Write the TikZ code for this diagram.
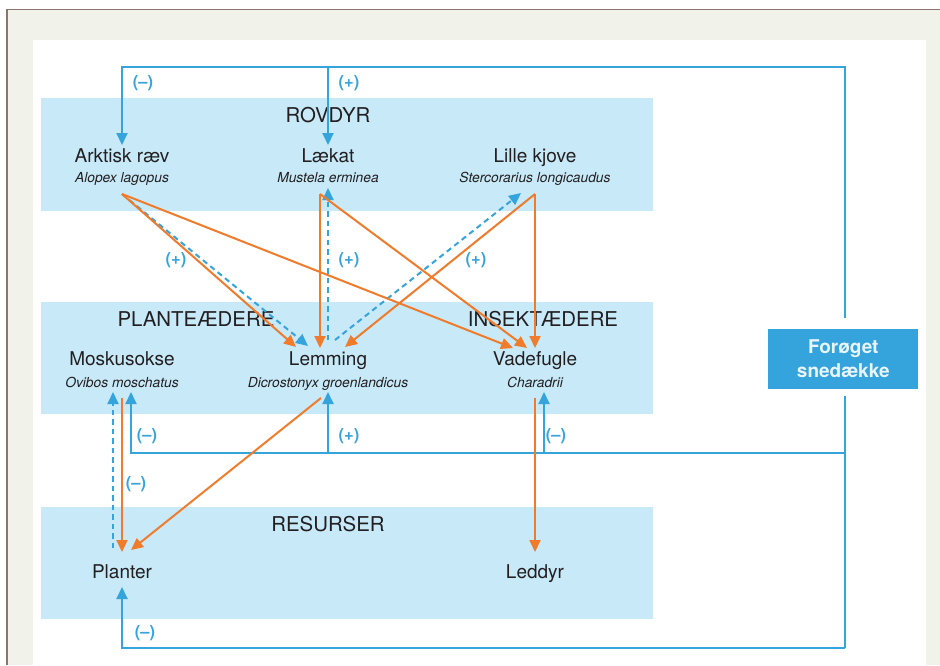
\documentclass[tikz,border=0pt]{standalone}
\usepackage{fontspec}
\setmainfont{TeX Gyre Heros}
\usetikzlibrary{arrows.meta}

\definecolor{pagebg}{HTML}{F1F3EA}
\definecolor{framec}{HTML}{8E7373}
\definecolor{bandblue}{HTML}{C7E9F8}
\definecolor{lineblue}{HTML}{35A4DC}
\definecolor{boxblue}{HTML}{35A3DC}
\definecolor{boxtext}{HTML}{E8F5FC}
\definecolor{orangec}{HTML}{F07B2B}
\definecolor{ink}{HTML}{231F20}

\begin{document}
\begin{tikzpicture}[x=1pt,y=-1pt,
  tip/.style={-{Triangle[length=12pt,width=11pt]}},
  feed/.style={draw=orangec,line width=2pt,tip},
  poslink/.style={draw=lineblue,line width=2pt,tip},
  weaklink/.style={poslink,dash pattern=on 5.5pt off 4pt},
  taxon/.style={anchor=base,text=ink,inner sep=0pt,font=\fontsize{19}{22}\selectfont},
  sciname/.style={anchor=base,text=ink,inner sep=0pt,font=\fontsize{13.8}{16}\selectfont\itshape},
  bandlabel/.style={anchor=base,text=ink,inner sep=0pt,font=\fontsize{20.4}{24}\selectfont},
  signlabel/.style={text=lineblue,inner sep=0pt,font=\fontsize{16.5}{19}\selectfont\bfseries},
  band/.style={fill=bandblue,draw=none}
]
\useasboundingbox (0,0) rectangle (940,665);

% page background, frame and white panel
\fill[white] (0,0) rectangle (940,665);
\fill[pagebg] (7,9.5) rectangle (940,665);
\draw[framec,line width=1.6pt] (7,665) -- (7,9.5) -- (940,9.5);
\fill[white] (33,40) rectangle (926,665);

% trophic bands
\fill[band] (41,98) rectangle (653,211);
\fill[band] (41,302) rectangle (653,414);
\fill[band] (41,507) rectangle (653,619);

% band titles
\node[bandlabel] (predators) at (328,122) {ROVDYR};
\node[bandlabel] (herbivores) at (196,326) {PLANTEÆDERE};
\node[bandlabel] (insectivores) at (543,326) {INSEKTÆDERE};
\node[bandlabel] (resources) at (328,531.5) {RESURSER};

% species
\node[taxon] (fox) at (122,162) {Arktisk ræv};
\node[sciname] (foxsp) at (122,182) {Alopex lagopus};
\node[taxon] (weasel) at (328,162) {Lækat};
\node[sciname] (weaselsp) at (328,182) {Mustela erminea};
\node[taxon] (skua) at (535,162) {Lille kjove};
\node[sciname] (skuasp) at (535,182) {Stercorarius longicaudus};
\node[taxon] (musk) at (122,365) {Moskusokse};
\node[sciname] (musksp) at (122,387) {Ovibos moschatus};
\node[taxon] (lemming) at (328,365) {Lemming};
\node[sciname] (lemmingsp) at (328,387) {Dicrostonyx groenlandicus};
\node[taxon] (wader) at (535,365) {Vadefugle};
\node[sciname] (wadersp) at (535,387) {Charadrii};
\node[taxon] (plants) at (122,578) {Planter};
\node[taxon] (arthropods) at (535,578) {Leddyr};

% snow cover driver
\node[fill=boxblue,text=boxtext,minimum width=150pt,minimum height=60pt,inner sep=0pt,
      align=center,font=\fontsize{19}{24}\selectfont\bfseries] (snow) at (843.3,359) {Forøget\\snedække};

% connector end points
\coordinate (snowtop) at (845,318);
\coordinate (snowbot) at (845,396);
\coordinate (topcorner) at (845,67);
\coordinate (topjoin) at (328,67);
\coordinate (midjoin) at (845,453);
\coordinate (midlem) at (328,453);
\coordinate (midwad) at (544,453);
\coordinate (lowcorner) at (845,648);

\coordinate (foxin) at (122,145);
\coordinate (weaselin) at (328,145);
\coordinate (foxout) at (122,194);
\coordinate (weaselout) at (320,194);
\coordinate (skuaout) at (535,194);
\coordinate (weaselup) at (328,188);
\coordinate (skuaup) at (521,193);

\coordinate (lemA) at (296,347);
\coordinate (lemB) at (320,348);
\coordinate (lemC) at (345,347);
\coordinate (lemD) at (308,346);
\coordinate (lemtopL) at (328,340);
\coordinate (lemtopR) at (335,340);
\coordinate (wadA) at (513,348);
\coordinate (wadB) at (527,348);
\coordinate (wadC) at (535,348);

\coordinate (muskout) at (122,398);
\coordinate (muskdash) at (113,392);
\coordinate (muskin) at (131,392);
\coordinate (lemout) at (321,398);
\coordinate (lemin) at (328,392);
\coordinate (wadout) at (535,398);
\coordinate (wadin) at (544,392);

\coordinate (plantA) at (122,552);
\coordinate (plantB) at (131,550);
\coordinate (plantdash) at (113,548);
\coordinate (plantin) at (122,587);
\coordinate (arthin) at (535,552);

% snow cover effects (blue)
\draw[poslink] (snowtop) -- (topcorner) -| (foxin);
\draw[poslink] (topjoin) -- (weaselin);
\draw[draw=lineblue,line width=2pt] (snowbot) -- (lowcorner);
\draw[poslink] (lowcorner) -| (plantin);
\draw[poslink] (midjoin) -| (muskin);
\draw[poslink] (midlem) -- (lemin);
\draw[poslink] (midwad) -- (wadin);

% indirect effects (dashed blue)
\draw[weaklink] (foxout) -- (lemD);
\draw[weaklink] (lemtopL) -- (weaselup);
\draw[weaklink] (lemtopR) -- (skuaup);
\draw[weaklink] (plantdash) -- (muskdash);

% feeding links (orange)
\draw[feed] (foxout) -- (lemA);
\draw[feed] (foxout) -- (wadA);
\draw[feed] (weaselout) -- (lemB);
\draw[feed] (weaselout) -- (wadB);
\draw[feed] (skuaout) -- (lemC);
\draw[feed] (skuaout) -- (wadC);
\draw[feed] (muskout) -- (plantA);
\draw[feed] (lemout) -- (plantB);
\draw[feed] (wadout) -- (arthin);

% effect signs
\node[signlabel] (s1) at (143,83) {(–)};
\node[signlabel] (s2) at (349,83) {(+)};
\node[signlabel] (s3) at (176,260) {(+)};
\node[signlabel] (s4) at (349,260) {(+)};
\node[signlabel] (s5) at (476,260) {(+)};
\node[signlabel] (s6) at (147,436) {(–)};
\node[signlabel] (s7) at (349,436) {(+)};
\node[signlabel] (s8) at (556,436) {(–)};
\node[signlabel] (s9) at (136,484) {(–)};
\node[signlabel] (s10) at (145,633) {(–)};
\end{tikzpicture}
\end{document}
